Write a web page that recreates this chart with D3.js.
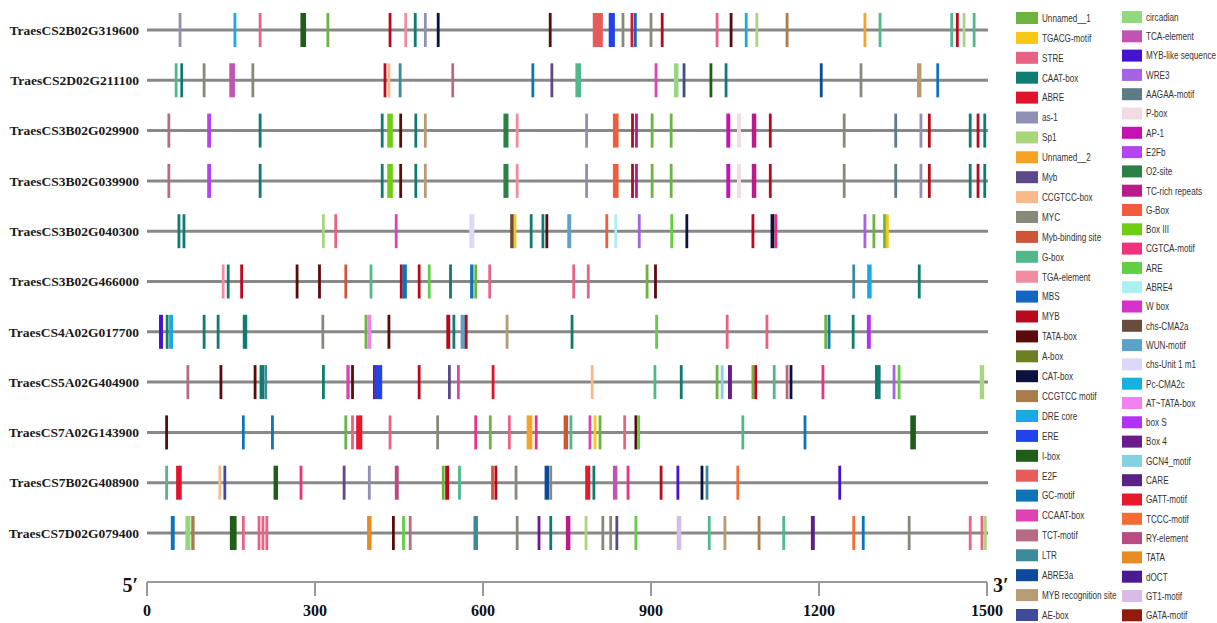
<!DOCTYPE html>
<html>
<head>
<meta charset="utf-8">
<script src="https://cdn.jsdelivr.net/npm/d3@7"></script>
<style>
  html, body { margin: 0; padding: 0; background: #fff; }
  #chart { width: 1217px; height: 623px; }
</style>
</head>
<body>
<div id="chart"></div>
<script>
// Gene names, top to bottom
const genes = [
  "TraesCS2B02G319600", "TraesCS2D02G211100", "TraesCS3B02G029900", "TraesCS3B02G039900",
  "TraesCS3B02G040300", "TraesCS3B02G466000", "TraesCS4A02G017700", "TraesCS5A02G404900",
  "TraesCS7A02G143900", "TraesCS7B02G408900", "TraesCS7D02G079400"
];

// Legend, two columns
const legendLeft = [
  "Unnamed__1", "TGACG-motif", "STRE", "CAAT-box", "ABRE", "as-1", "Sp1", "Unnamed__2", "Myb",
  "CCGTCC-box", "MYC", "Myb-binding site", "G-box", "TGA-element", "MBS", "MYB", "TATA-box",
  "A-box", "CAT-box", "CCGTCC motif", "DRE core", "ERE", "I-box", "E2F", "GC-motif", "CCAAT-box",
  "TCT-motif", "LTR", "ABRE3a", "MYB recognition site", "AE-box"
];
const legendRight = [
  "circadian", "TCA-element", "MYB-like sequence", "WRE3", "AAGAA-motif", "P-box", "AP-1", "E2Fb",
  "O2-site", "TC-rich repeats", "G-Box", "Box III", "CGTCA-motif", "ARE", "ABRE4", "W box",
  "chs-CMA2a", "WUN-motif", "chs-Unit 1 m1", "Pc-CMA2c", "AT~TATA-box", "box S", "Box 4",
  "GCN4_motif", "CARE", "GATT-motif", "TCCC-motif", "RY-element", "TATA", "dOCT", "GT1-motif",
  "GATA-motif"
];
const coloursLeft = [
  "#6db33f", "#f7c815", "#ea6283", "#0f7c72", "#e3122b", "#9090b4", "#a9d67a", "#f6a222", "#5c4a88",
  "#f9b98c", "#878a78", "#cd5636", "#50b88b", "#f18ca2", "#1566c4", "#b80a1c", "#5a0c0c",
  "#6c7f23", "#0b1240", "#a97c4c", "#1aa9e2", "#2043ea", "#1f5d18", "#e75b5b", "#0d74b8", "#e042b2",
  "#b86a82", "#3d8a9c", "#0c4a9c", "#b79b73", "#3d4b98"
];
const coloursRight = [
  "#92d97b", "#c153b3", "#4412d0", "#a463e2", "#5c7b82", "#f3dbe3", "#c412b3", "#b444f2",
  "#2a8143", "#ba1a8c", "#f55b3b", "#6fce12", "#f1317c", "#5fd044", "#aaf2f1", "#d532cb",
  "#6b4b3d", "#5ba2c9", "#dcd8f5", "#14b2e1", "#f181ef", "#b232f3", "#6b1b8b",
  "#84d2df", "#5a2282", "#e8192a", "#f76c33", "#b94a82", "#e88b22", "#4a1a92", "#d9bbe8",
  "#931b0c"
];

// Cis-element sites per gene: [element, position (bp), length (bp, default 5)]
const sites2B319600 = [
  ["as-1",59],["DRE core",157],["STRE",202],["I-box",279,10],["Unnamed__1",323],["MYB",434],
  ["TGA-element",462],["CAAT-box",479],["as-1",497],["CAT-box",520],["TATA-box",720],["E2F",805,18],
  ["ERE",830,11],["MYC",850],["ABRE",866],["MBS",872],["MYC",900],["MYB",920],["STRE",1018],
  ["TATA-box",1043],["DRE core",1070],["Sp1",1089],["CCGTCC motif",1143],["Unnamed__2",1282],
  ["G-box",1309],["G-box",1437],["MYB",1447],["Sp1",1459],["G-box",1477]
];
const sites2D211100 = [
  ["G-box",52],["CAAT-box",62],["MYC",102],["TCA-element",152,10],["MYC",189],["MYB",425],
  ["CCGTCC-box",432],["LTR",452],["TCT-motif",546],["GC-motif",689],["Myb",723],["G-box",770,10],
  ["CCAAT-box",909],["circadian",945,8],["AE-box",959],["I-box",1007],["CAAT-box",1034],
  ["ABRE3a",1204],["MYC",1275],["MYB recognition site",1379,8],["GC-motif",1412]
];
const sites3B029900 = [
  ["TCT-motif",39],["E2Fb",111,7],["CAAT-box",202],["CAAT-box",420],["Box III",434,10],
  ["TATA-box",453],["CAAT-box",480],["MYB recognition site",497],["O2-site",641,9],["TGA-element",661],
  ["as-1",785],["G-Box",837,10],["MYB",867],["TC-rich repeats",874],["Unnamed__1",902],
  ["Unnamed__1",936],["AP-1",1038,7],["P-box",1057,7],["TC-rich repeats",1084,8],["MYB",1113],
  ["MYC",1245],["AAGAA-motif",1337],["as-1",1382],["MYB",1397],["CAAT-box",1470],["MYB",1484],
  ["CAAT-box",1496]
];
const sites3B039900 = sites3B029900.map(d => d.slice());
const sites3B040300 = [
  ["CAAT-box",57],["CAAT-box",66],["Sp1",315],["STRE",337],["CCAAT-box",445],["chs-Unit 1 m1",580,9],
  ["chs-CMA2a",652,7],["TGACG-motif",657,3],["CAAT-box",686],["CAAT-box",707],["TATA-box",714],
  ["WUN-motif",754,7],["G-Box",821],["ABRE4",837],["WRE3",879],["ARE",937],["CAT-box",964],
  ["MYB",1082],["CAT-box",1117,7],["CGTCA-motif",1123],["WRE3",1282],["Unnamed__1",1298],
  ["Unnamed__1",1317],["TGACG-motif",1322,3]
];
const sites3B466000 = [
  ["TGA-element",136],["CAAT-box",145],["MYB",169],["TATA-box",268],["TATA-box",308],
  ["Myb-binding site",355],["G-box",400],["MYB",454],["GC-motif",460,8],["MYB",486],["ARE",504],
  ["CAAT-box",542],["GC-motif",580,6],["Unnamed__1",587],["STRE",612],["STRE",762],["STRE",788],
  ["Unnamed__1",893],["TATA-box",908],["LTR",1262],["DRE core",1290,8],["CAAT-box",1379]
];
const sites4A017700 = [
  ["MYB-like sequence",25,7],["CAAT-box",36],["DRE core",43,7],["CAAT-box",102],["CAAT-box",127],
  ["CAAT-box",175,8],["MYC",314],["Unnamed__1",391],["AT~TATA-box",397,7],["TATA-box",432],
  ["MYB",538,7],["CAAT-box",548],["WUN-motif",564,8],["MYB",570,3],["MYB recognition site",643],
  ["CAAT-box",759],["ARE",910],["STRE",1036],["STRE",1107],["Unnamed__1",1212],["GC-motif",1218],
  ["CAAT-box",1261],["box S",1289,7]
];
const sites5A404900 = [
  ["TCT-motif",73],["TATA-box",132],["TATA-box",193],["CAAT-box",205,8],["LTR",212],["CAAT-box",315],
  ["CCAAT-box",359,6],["TATA-box",367],["MYB",406,4],["ERE",413,14],["MYB",486],["Myb",540],
  ["CCAAT-box",556],["ABRE",618],["CCGTCC-box",795],["G-box",907],["CAAT-box",954],
  ["Unnamed__1",1018],["GCN4_motif",1027],["Box 4",1041,7],["Unnamed__1",1082],["MYB",1087],
  ["G-box",1120],["TCT-motif",1143],["CAT-box",1150],["CGTCA-motif",1207],["CAAT-box",1305,10],
  ["WRE3",1334],["ARE",1343],["Sp1",1491,8]
];
const sites7A143900 = [
  ["TATA-box",35],["GC-motif",172],["GC-motif",224],["Unnamed__1",355],["STRE",367],
  ["GATT-motif",379,11],["STRE",434],["MYC",519],["CGTCA-motif",587],["Unnamed__1",613],["STRE",647],
  ["Unnamed__2",683,10],["CGTCA-motif",695],["Myb-binding site",748,8],["G-box",757],["CCAAT-box",791],
  ["TGACG-motif",800],["Unnamed__1",809],["STRE",853],["TATA-box",873],["ARE",878],["G-box",1064],
  ["GC-motif",1175],["I-box",1368,10]
];
const sites7B408900 = [
  ["G-box",35],["ABRE",57,10],["CCGTCC-box",130],["AE-box",139],["I-box",230,8],["CGTCA-motif",275],
  ["Myb",352],["as-1",397],["RY-element",446,7],["Unnamed__1",529],["MYB",536,7],["G-box",558],
  ["Myb-binding site",617],["MYB",623],["MYC",659],["ABRE3a",714,8],["MYC",721],["GATT-motif",787,9],
  ["CAAT-box",798],["TCA-element",836,8],["CGTCA-motif",859],["MYB",918],["MYB-like sequence",948],
  ["CAT-box",991],["LTR",1000],["TCCC-motif",1055],["MYB-like sequence",1237]
];
const sites7D079400 = [
  ["GC-motif",46,7],["circadian",73,9],["CCGTCC motif",82,6],["I-box",154,12],["STRE",172],
  ["STRE",200],["STRE",207],["STRE",214],["TATA",397,8],["TATA-box",440],["ARE",458],["TCT-motif",470],
  ["LTR",587,8],["MYC",661],["Box 4",700],["CAAT-box",721],["TC-rich repeats",752,8],["Sp1",784],
  ["MYC",814],["MYC",828],["Myb",839],["ARE",873],["GT1-motif",950,8],["G-box",1004],
  ["MYB recognition site",1032],["CCGTCC motif",1093],["G-box",1137],["CARE",1189,7],["TCCC-motif",1262],
  ["GC-motif",1279],["MYC",1361],["STRE",1470],["STRE",1491],["Sp1",1497]
];
const allSites = [sites2B319600, sites2D211100, sites3B029900, sites3B039900, sites3B040300,
  sites3B466000, sites4A017700, sites5A404900, sites7A143900, sites7B408900, sites7D079400];

const axisTicks = [0, 300, 600, 900, 1200, 1500];

// ---- drawing ----
const width = 1217, height = 623;
const svg = d3.select("#chart").append("svg")
  .attr("width", width)
  .attr("height", height)
  .style("background", "#fff");

const x = d3.scaleLinear().domain([0, 1500]).range([147, 987]);
const y = d3.scalePoint().domain(genes).range([30, 533]);
const colour = d3.scaleOrdinal()
  .domain(legendLeft.concat(legendRight))
  .range(coloursLeft.concat(coloursRight));

const markH = 34;
const serif = "'Liberation Serif', 'Times New Roman', serif";

// gene rows
const rows = svg.append("g").selectAll("g")
  .data(genes)
  .join("g")
  .attr("transform", d => `translate(0,${y(d)})`);

rows.append("line")
  .attr("x1", x(0)).attr("x2", x(1500) + 1)
  .attr("stroke", "#888").attr("stroke-width", 3);

rows.append("text")
  .attr("x", 139).attr("y", 0)
  .attr("dy", "0.35em")
  .attr("text-anchor", "end")
  .attr("font-family", serif)
  .attr("font-weight", "bold")
  .attr("font-size", 13.5)
  .attr("fill", "#1a1a1a")
  .text(d => d);

rows.selectAll("rect")
  .data((d, i) => allSites[i])
  .join("rect")
  .attr("x", d => {
    const w = Math.max(x(d[2] || 5) - x(0), 2.8);
    return x(d[1]) - w / 2;
  })
  .attr("width", d => Math.max(x(d[2] || 5) - x(0), 2.8))
  .attr("y", -markH / 2)
  .attr("height", markH)
  .attr("fill", d => colour(d[0]));

// position axis
const axisY = 582;
const axisG = svg.append("g").attr("transform", `translate(0,${axisY})`);
axisG.append("line")
  .attr("x1", x(0)).attr("x2", x(1500))
  .attr("stroke", "#999").attr("stroke-width", 2);
axisG.selectAll("line.tick")
  .data(axisTicks)
  .join("line")
  .attr("class", "tick")
  .attr("x1", d => x(d)).attr("x2", d => x(d))
  .attr("y1", 0).attr("y2", 14)
  .attr("stroke", "#999").attr("stroke-width", 2);
axisG.selectAll("text.tl")
  .data(axisTicks)
  .join("text")
  .attr("class", "tl")
  .attr("x", d => x(d)).attr("y", 34)
  .attr("text-anchor", "middle")
  .attr("font-family", serif)
  .attr("font-weight", "bold")
  .attr("font-size", 16)
  .attr("fill", "#111")
  .text(d => d);

axisG.append("text")
  .attr("x", 138).attr("y", 10)
  .attr("text-anchor", "end")
  .attr("font-family", serif).attr("font-weight", "bold")
  .attr("font-size", 20).attr("fill", "#111")
  .text("5\u2032");
axisG.append("text")
  .attr("x", 993).attr("y", 10)
  .attr("font-family", serif).attr("font-weight", "bold")
  .attr("font-size", 20).attr("fill", "#111")
  .text("3\u2032");

// legend (labels condensed horizontally, like a narrow face)
const legendFont = "'Liberation Sans', Arial, sans-serif";
function drawLegend(names, x0, y0, step, sw) {
  const g = svg.append("g").selectAll("g")
    .data(names)
    .join("g")
    .attr("transform", (d, i) => `translate(${x0},${y0 + i * step})`);
  g.append("rect")
    .attr("x", 0).attr("y", -6)
    .attr("width", sw).attr("height", 12)
    .attr("fill", d => colour(d));
  g.append("text")
    .attr("transform", `translate(${sw + 4},0) scale(0.74,1)`)
    .attr("dy", "0.35em")
    .attr("font-family", legendFont)
    .attr("font-size", 11)
    .attr("fill", "#333")
    .text(d => d);
}
drawLegend(legendLeft, 1016, 18, 19.9, 22);
drawLegend(legendRight, 1122, 17, 19.3, 20);
</script>
</body>
</html>
